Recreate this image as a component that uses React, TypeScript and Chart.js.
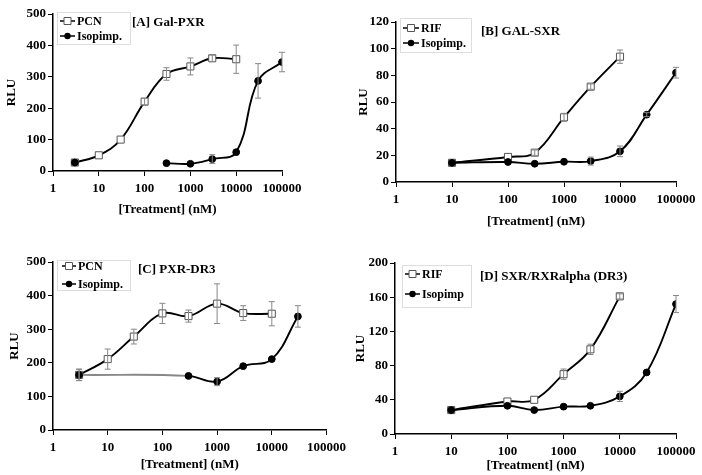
import { useEffect, useRef } from "react";
import { Chart, registerables } from "chart.js";

Chart.register(...registerables);

const X_TICKS = [1, 10, 100, 1000, 10000, 100000];

// Panel A: Gal-PXR
const A_PCN_X = [3, 10, 30, 100, 300, 1000, 3000, 10000];
const A_PCN_Y = [27, 50, 100, 221, 309, 333, 359, 356];
const A_PCN_ERR = [3, 4, 6, 10, 20, 27, 10, 45];
const A_ISO_X = [3, 300, 1000, 3000, 10000, 30000, 100000];
const A_ISO_Y = [27, 25, 23, 38, 60, 287, 347];
const A_ISO_ERR = [3, 3, 3, 14, 5, 55, 31];

// Panel B: GAL-SXR
const B_RIF_X = [10, 100, 300, 1000, 3000, 10000];
const B_RIF_Y = [14.4, 18.8, 22, 48.5, 71.5, 94];
const B_RIF_ERR = [1, 1, 2, 3, 2, 5];
const B_ISO_X = [10, 100, 300, 1000, 3000, 10000, 30000, 100000];
const B_ISO_Y = [14.4, 15, 13.7, 15.2, 15.7, 23, 50.5, 82];
const B_ISO_ERR = [1, 1, 1, 1, 3, 4, 1.5, 4];

// Panel C: PXR-DR3
const C_PCN_X = [3, 10, 30, 100, 300, 1000, 3000, 10000];
const C_PCN_Y = [164, 211, 278, 347, 339, 376, 348, 346];
const C_PCN_ERR = [17, 30, 22, 30, 18, 59, 22, 36];
const C_ISO_X = [3, 300, 1000, 3000, 10000, 30000];
const C_ISO_Y = [164, 161, 144, 190, 211, 338];
const C_ISO_ERR = [17, 5, 12, 5, 5, 32];

// Panel D: SXR/RXRalpha (DR3)
const D_RIF_X = [10, 100, 300, 1000, 3000, 10000];
const D_RIF_Y = [28, 38, 40, 70, 99, 161];
const D_RIF_ERR = [1, 2, 2, 6, 6, 3];
const D_ISO_X = [10, 100, 300, 1000, 3000, 10000, 30000, 100000];
const D_ISO_Y = [28, 33, 28, 32, 33, 44, 72, 152];
const D_ISO_ERR = [1, 1, 1, 1, 1, 6, 1.5, 10];

type Series = {
  label: string;
  xs: number[];
  ys: number[];
  errs: number[];
  open: boolean;
  breakAfterFirst?: boolean;
  grayFirst?: boolean;
};

type Panel = {
  pos: [number, number, number, number];
  area: [number, number, number, number];
  yMax: number;
  yStep: number;
  yTitleX: number;
  xTitleY: number;
  title: string;
  titleXY: [number, number];
  box: [number, number, number, number];
  rows: [number, number];
  sampleX: number;
  textX: number;
  series: Series[];
};

const FAMILY = "'Liberation Serif', 'Times New Roman', serif";

const PANELS: Panel[] = [
  {
    pos: [0, 0, 351, 237],
    area: [53, 14, 282, 171],
    yMax: 500,
    yStep: 100,
    yTitleX: 12,
    xTitleY: 210,
    title: "[A] Gal-PXR",
    titleXY: [132, 23],
    box: [57, 12, 130, 44],
    rows: [21, 36],
    sampleX: 60,
    textX: 77,
    series: [
      { label: "PCN", xs: A_PCN_X, ys: A_PCN_Y, errs: A_PCN_ERR, open: true },
      { label: "Isopimp.", xs: A_ISO_X, ys: A_ISO_Y, errs: A_ISO_ERR, open: false, breakAfterFirst: true },
    ],
  },
  {
    pos: [351, 0, 351, 237],
    area: [45, 22, 325, 182],
    yMax: 120,
    yStep: 20,
    yTitleX: 13,
    xTitleY: 222,
    title: "[B] GAL-SXR",
    titleXY: [130, 32],
    box: [49, 18, 120, 52],
    rows: [28, 43],
    sampleX: 52,
    textX: 70,
    series: [
      { label: "RIF", xs: B_RIF_X, ys: B_RIF_Y, errs: B_RIF_ERR, open: true },
      { label: "Isopimp.", xs: B_ISO_X, ys: B_ISO_Y, errs: B_ISO_ERR, open: false },
    ],
  },
  {
    pos: [0, 237, 351, 238],
    area: [53, 25, 327, 193],
    yMax: 500,
    yStep: 100,
    yTitleX: 15,
    xTitleY: 228,
    title: "[C] PXR-DR3",
    titleXY: [138, 33],
    box: [57, 23, 130, 53],
    rows: [29, 47],
    sampleX: 62,
    textX: 78,
    series: [
      { label: "PCN", xs: C_PCN_X, ys: C_PCN_Y, errs: C_PCN_ERR, open: true },
      { label: "Isopimp.", xs: C_ISO_X, ys: C_ISO_Y, errs: C_ISO_ERR, open: false, grayFirst: true },
    ],
  },
  {
    pos: [351, 237, 351, 238],
    area: [44, 26, 325, 197],
    yMax: 200,
    yStep: 40,
    yTitleX: 10,
    xTitleY: 229,
    title: "[D] SXR/RXRalpha (DR3)",
    titleXY: [129, 40],
    box: [51, 28, 120, 70],
    rows: [37, 57],
    sampleX: 54,
    textX: 71,
    series: [
      { label: "RIF", xs: D_RIF_X, ys: D_RIF_Y, errs: D_RIF_ERR, open: true },
      { label: "Isopimp", xs: D_ISO_X, ys: D_ISO_Y, errs: D_ISO_ERR, open: false },
    ],
  },
];

function drawMarker(ctx: CanvasRenderingContext2D, x: number, y: number, open: boolean) {
  ctx.save();
  if (open) {
    ctx.fillStyle = "#fff";
    ctx.strokeStyle = "#555";
    ctx.lineWidth = 1;
    ctx.beginPath();
    ctx.rect(x - 3.5, y - 3.5, 7, 7);
    ctx.fill();
    ctx.stroke();
  } else {
    ctx.fillStyle = "#000";
    ctx.beginPath();
    ctx.arc(x, y, 3.2, 0, Math.PI * 2);
    ctx.fill();
  }
  ctx.restore();
}

function PanelChart({ p }: { p: Panel }) {
  const ref = useRef<HTMLCanvasElement | null>(null);
  useEffect(() => {
    const canvas = ref.current;
    if (!canvas) return;
    const [, , W, H] = p.pos;
    const font = { family: FAMILY, weight: "bold" as const, size: 13 };

    const datasets = p.series.map((s) => {
      const data: { x: number; y: number | null }[] = s.xs.map((x, i) => ({ x, y: s.ys[i] }));
      if (s.breakAfterFirst) data.splice(1, 0, { x: 30, y: null });
      return {
        label: s.label,
        data,
        order: s.open ? 1 : 0,
        borderColor: "#000",
        borderWidth: 1.9,
        tension: 0.4,
        spanGaps: false,
        pointStyle: s.open ? "rect" : "circle",
        pointRadius: s.open ? 5 : 3.4,
        pointBorderWidth: 1,
        pointBackgroundColor: s.open ? "#fff" : "#000",
        pointBorderColor: s.open ? "#555" : "#000",
        segment: s.grayFirst
          ? { borderColor: (ctx: any) => (ctx.p0DataIndex === 0 ? "#888" : "#000") }
          : undefined,
      };
    });

    const decor = {
      id: "decor" + p.title,
      afterDatasetsDraw(chart: any) {
        const { ctx } = chart;
        const xs = chart.scales.x;
        const ys = chart.scales.y;
        ctx.save();
        ctx.strokeStyle = "#888";
        ctx.lineWidth = 1;
        p.series.forEach((s) => {
          s.xs.forEach((xv, i) => {
            const e = s.errs[i];
            const px = xs.getPixelForValue(xv);
            const y1 = ys.getPixelForValue(s.ys[i] + e);
            const y2 = ys.getPixelForValue(s.ys[i] - e);
            if (Math.abs(y2 - y1) < 4) return;
            ctx.beginPath();
            ctx.moveTo(px, y1);
            ctx.lineTo(px, y2);
            ctx.moveTo(px - 3, y1);
            ctx.lineTo(px + 3, y1);
            ctx.moveTo(px - 3, y2);
            ctx.lineTo(px + 3, y2);
            ctx.stroke();
          });
        });
        ctx.restore();
      },
      afterDraw(chart: any) {
        const { ctx } = chart;
        ctx.save();
        const [bl, bt, br, bb] = p.box;
        ctx.fillStyle = "#fff";
        ctx.fillRect(bl, bt, br - bl, bb - bt);
        ctx.strokeStyle = "#ddd";
        ctx.lineWidth = 1;
        ctx.strokeRect(bl + 0.5, bt + 0.5, br - bl, bb - bt);
        ctx.font = `bold 12px ${FAMILY}`;
        ctx.textBaseline = "middle";
        ctx.textAlign = "left";
        p.series.forEach((s, i) => {
          const y = p.rows[i];
          ctx.strokeStyle = "#000";
          ctx.lineWidth = 1.5;
          ctx.beginPath();
          ctx.moveTo(p.sampleX, y);
          ctx.lineTo(p.textX - 2, y);
          ctx.stroke();
          drawMarker(ctx, (p.sampleX + p.textX - 2) / 2, y, s.open);
          ctx.fillStyle = "#000";
          ctx.fillText(s.label, p.textX, y + 0.5);
        });
        ctx.font = `bold 13px ${FAMILY}`;
        ctx.fillStyle = "#000";
        ctx.fillText(p.title, p.titleXY[0], p.titleXY[1]);
        ctx.restore();
      },
    };

    const chart = new Chart(canvas, {
      type: "line",
      data: { datasets: datasets as any },
      options: {
        responsive: false,
        animation: false,
        devicePixelRatio: 1,
        layout: { padding: { left: 0, top: p.area[1], right: W - p.area[2], bottom: 0 } },
        plugins: { legend: { display: false }, tooltip: { enabled: false } },
        scales: {
          x: {
            type: "logarithmic",
            min: 1,
            max: 100000,
            afterBuildTicks: (s: any) => {
              s.ticks = X_TICKS.map((v) => ({ value: v }));
            },
            afterFit: (s: any) => {
              s.height = H - p.area[3];
            },
            ticks: {
              callback: (v: any) => String(v),
              font,
              color: "#000",
              padding: 5,
              maxRotation: 0,
              autoSkip: false,
            },
            grid: { drawOnChartArea: false, tickLength: 5, color: "#000" },
            border: { color: "#000", width: 1.5 },
            title: {
              display: true,
              text: "[Treatment] (nM)",
              font,
              color: "#000",
              padding: { top: 0, bottom: H - p.xTitleY - 7.8 },
            },
          },
          y: {
            min: 0,
            max: p.yMax,
            afterFit: (s: any) => {
              s.width = p.area[0];
            },
            ticks: { stepSize: p.yStep, font, color: "#000", padding: 2 },
            grid: { drawOnChartArea: false, tickLength: 5, color: "#000" },
            border: { color: "#000", width: 1.5 },
            title: {
              display: true,
              text: "RLU",
              font,
              color: "#000",
              padding: { top: p.yTitleX - 7.8, bottom: 0 },
            },
          },
        },
      } as any,
      plugins: [decor],
    });
    return () => chart.destroy();
  }, [p]);

  const [x, y, w, h] = p.pos;
  return (
    <canvas
      ref={ref}
      width={w}
      height={h}
      style={{ position: "absolute", left: x, top: y, width: w, height: h }}
    />
  );
}

export default function App() {
  return (
    <div
      style={{
        position: "fixed",
        left: 0,
        top: 0,
        width: 702,
        height: 475,
        background: "#fff",
        overflow: "hidden",
      }}
    >
      {PANELS.map((p) => (
        <PanelChart key={p.title} p={p} />
      ))}
    </div>
  );
}
